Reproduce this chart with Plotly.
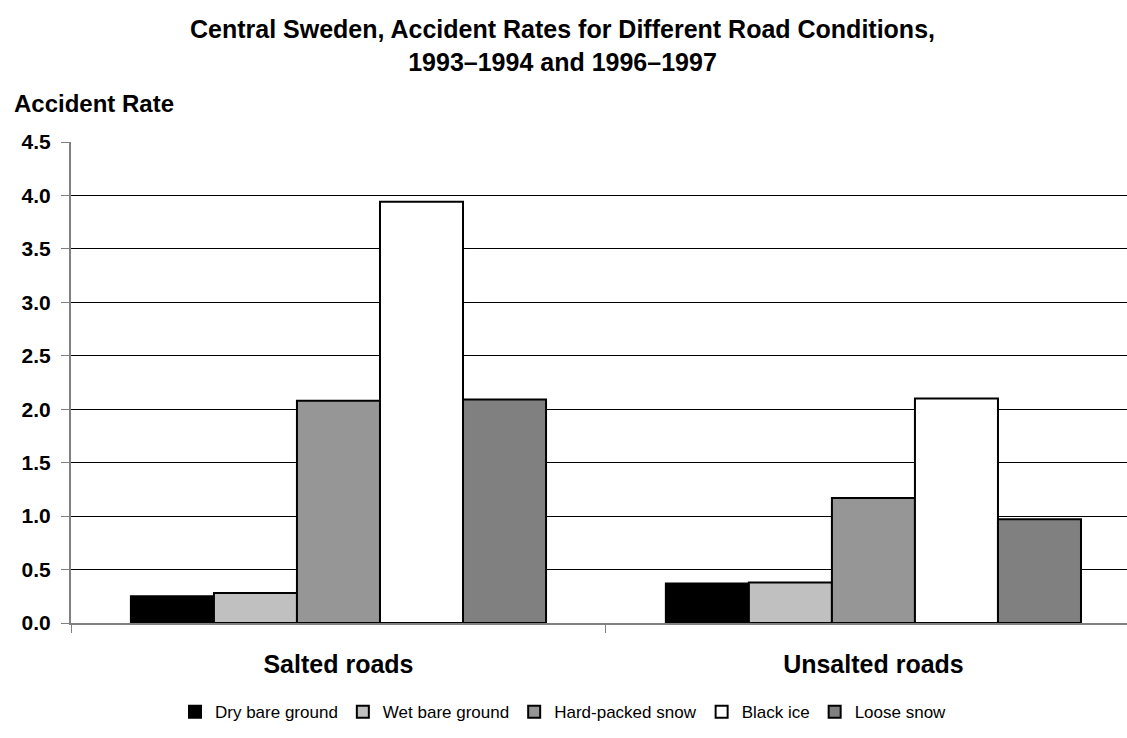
import plotly.graph_objects as go

categories = ["Salted roads", "Unsalted roads"]
series_names = ["Dry bare ground", "Wet bare ground", "Hard-packed snow", "Black ice", "Loose snow"]
dry_bare = [0.25, 0.37]
wet_bare = [0.28, 0.38]
hard_packed = [2.08, 1.17]
black_ice = [3.94, 2.10]
loose_snow = [2.09, 0.97]
series_values = [dry_bare, wet_bare, hard_packed, black_ice, loose_snow]
colors = ["#000000", "#C0C0C0", "#969696", "#FFFFFF", "#808080"]
y_ticks = [0.0, 0.5, 1.0, 1.5, 2.0, 2.5, 3.0, 3.5, 4.0, 4.5]

FONT = "Liberation Sans, Arial, sans-serif"

fig = go.Figure()
for name, vals, col in zip(series_names, series_values, colors):
    fig.add_trace(go.Bar(
        x=categories, y=vals, name=name,
        marker=dict(color=col, line=dict(color="#000000", width=2)),
    ))

fig.update_layout(
    width=1127, height=738,
    paper_bgcolor="white", plot_bgcolor="white",
    barmode="group", bargap=0.224, bargroupgap=0,
    margin=dict(l=71, r=0, t=142, b=115),
    font=dict(family=FONT, color="black"),
    showlegend=True,
    legend=dict(
        orientation="h", xref="container", yref="container",
        x=0.5, xanchor="center", y=0.035, yanchor="middle",
        font=dict(family=FONT, size=17, color="black"),
        itemwidth=30, traceorder="normal",
    ),
    annotations=[
        dict(
            text="<b>Central Sweden, Accident Rates for Different Road Conditions,<br>1993–1994 and 1996–1997</b>",
            xref="paper", yref="paper", x=0.4659, xanchor="center",
            y=1.1996, yanchor="middle", align="center",
            showarrow=False, font=dict(family=FONT, size=25, color="black"),
        ),
        dict(
            text="Accident Rate", xref="paper", yref="paper",
            x=-0.056, xanchor="left", y=1.081, yanchor="middle",
            showarrow=False, font=dict(family=FONT, size=24, weight="bold", color="black"),
        ),
    ],
)

fig.update_xaxes(
    type="category", range=[-0.5, 1.474],
    showline=True, linecolor="#808080", linewidth=2,
    ticks="outside", tickson="boundaries", ticklen=8, tickcolor="#808080", tickwidth=1,
    showgrid=False,
    tickfont=dict(family=FONT, size=25, weight="bold", color="black"),
    ticklabelstandoff=18,
)
fig.update_yaxes(
    range=[0, 4.5], tickvals=y_ticks, ticktext=[f"{v:.1f}" for v in y_ticks],
    showline=True, linecolor="#808080", linewidth=2,
    ticks="outside", ticklen=8, tickcolor="#808080",
    showgrid=True, gridcolor="#000000", gridwidth=1,
    zeroline=False, ticklabelstandoff=6,
    tickfont=dict(family=FONT, size=21, weight="bold", color="black"),
)

fig.write_html("out.html", config={"displayModeBar": False},
               post_script="document.body.style.margin='0';document.body.style.overflow='hidden';")
